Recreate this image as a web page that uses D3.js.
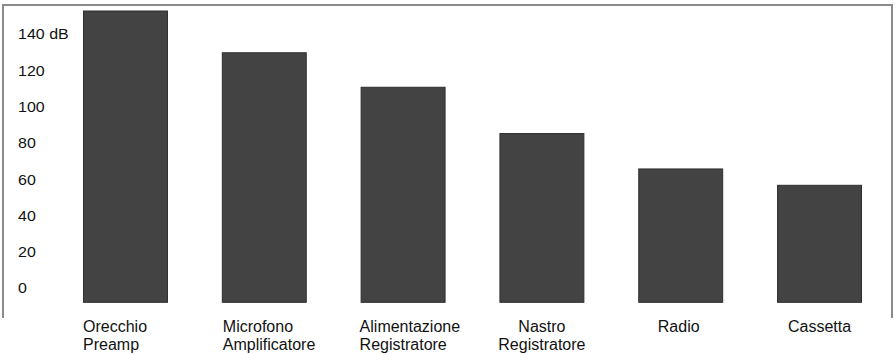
<!DOCTYPE html>
<html><head><meta charset="utf-8">
<script src="https://cdn.jsdelivr.net/npm/d3@7"></script>
<style>
html,body{margin:0;padding:0;background:#fff;}
svg{display:block;font-family:Arial,"Liberation Sans",Helvetica,sans-serif;}
</style></head>
<body>
<svg id="chart" width="896" height="354"></svg>
<script>
// Data
const categories = [
  ["Orecchio","Preamp"],
  ["Microfono","Amplificatore"],
  ["Alimentazione","Registratore"],
  ["Nastro","Registratore"],
  ["Radio"],
  ["Cassetta"]
];
const values = [153, 130, 111, 85.5, 66, 57];
const tickValues = [0, 20, 40, 60, 80, 100, 120, 140];
const tickLabels = ["0","20","40","60","80","100","120","140 dB"];

// Layout / style
const labelAnchor = ["start","start","start","middle","middle","middle"];
const labelShift = [0, 1, -1, 0, -2, 0];
const svg = d3.select("#chart");

const x = d3.scaleBand().domain(d3.range(categories.length))
  .range([83, 862]).paddingInner(0.388).paddingOuter(0);
const y = d3.scaleLinear().domain([0, 140]).range([288.3, 34.1]);
const floorVal = -8;

// frame (top, left, right)
svg.append("path").attr("d", "M3,318 V5 H892 V318")
  .attr("stroke","#8a8a8a").attr("stroke-width",2).attr("fill","none");

// bars
svg.append("g").selectAll("rect").data(values).join("rect")
  .attr("x", (d,i)=>x(i)+0.5)
  .attr("y", d=>y(d)+0.5)
  .attr("width", x.bandwidth()-1)
  .attr("height", d=>y(floorVal)-y(d)-1)
  .attr("fill","#434343")
  .attr("stroke","#2e2e2e")
  .attr("stroke-width",1);

// y labels
svg.append("g").selectAll("text").data(tickValues).join("text")
  .attr("transform", d=>`translate(18,${y(d)}) scale(1,0.9)`)
  .attr("dy","0.36em")
  .attr("font-size",16)
  .attr("fill","#111")
  .text((d,i)=>tickLabels[i]);

// category labels
const cg = svg.append("g").attr("font-size",16).attr("fill","#111");
categories.forEach((lines,i)=>{
  const ax = (labelAnchor[i]==="start" ? x(i) : x(i)+x.bandwidth()/2) + labelShift[i];
  const t = cg.append("text").attr("text-anchor", labelAnchor[i]);
  lines.forEach((ln,j)=>{
    t.append("tspan").attr("x", ax).attr("y", 332 + j*18).text(ln);
  });
});
</script>
</body></html>
